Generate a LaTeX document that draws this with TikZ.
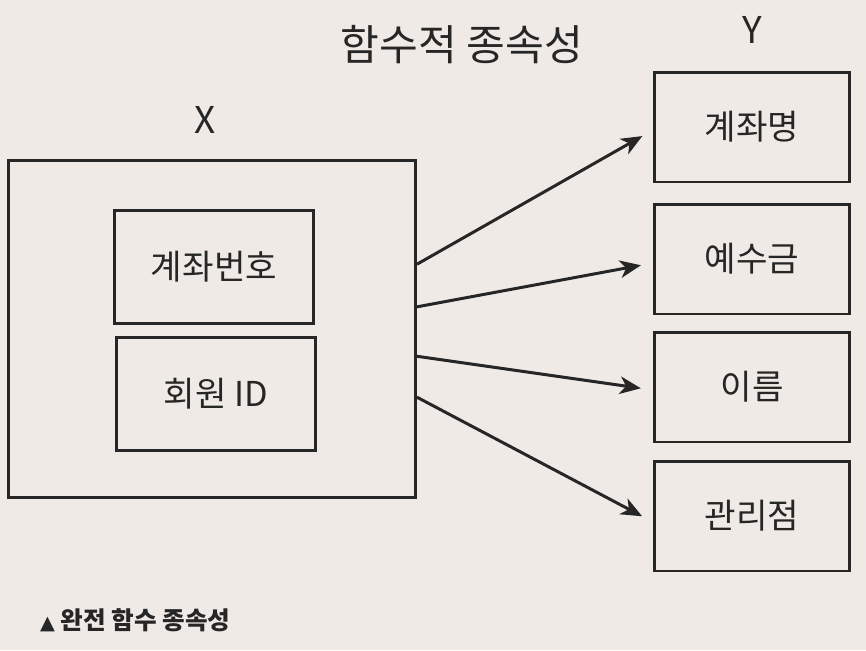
\documentclass[tikz,border=0pt]{standalone}
\usepackage{fontspec}
\setmainfont{Noto Sans CJK KR}
\usetikzlibrary{calc,arrows.meta}
\definecolor{paper}{HTML}{EFEAE5}
\definecolor{ink}{HTML}{262626}

\begin{document}
\begin{tikzpicture}[
  x=0.02cm, y=-0.02cm,
  box/.style={draw=ink, line width=1.7pt, minimum width=3.9cm, minimum height=2.2cm,
              align=center, font=\fontsize{19.5}{22}\selectfont, text=ink},
  inbox/.style={box, minimum width=3.97cm, minimum height=2.27cm},
  arr/.style={-{Stealth[length=12pt, width=10pt, inset=3.5pt]}, line width=1.7pt, draw=ink, shorten >=7pt},
]
  \fill[paper] (0,0) rectangle (866,650);
  \useasboundingbox (0,0) rectangle (866,650);

  \node[text=ink, font=\fontsize{24}{28}\selectfont] (title) at (462,45) {함수적 종속성};
  \node[text=ink, font=\fontsize{21}{24}\selectfont] (xlab) at (205,120) {X};
  \node[text=ink, font=\fontsize{21}{24}\selectfont] (ylab) at (752,30) {Y};

  % left side
  \node[draw=ink, line width=1.7pt, minimum width=8.14cm, minimum height=6.76cm] (xbox) at (212,329) {};
  \node[inbox] (acctno) at (214,267) {계좌번호};
  \node[inbox] (member) at (216,394) {회원 ID};

  % right side
  \node[box] (acctname) at (752,127) {계좌명};
  \node[box] (deposit) at (752,259) {예수금};
  \node[box] (name) at (752,387) {이름};
  \node[box] (branch) at (752,516) {관리점};

  \draw[arr] ($(xbox.north east)!0.31!(xbox.south east)$) -- ($(acctname.west)+(0,3)$);
  \draw[arr] ($(xbox.north east)!0.435!(xbox.south east)$) -- ($(deposit.west)+(0,4)$);
  \draw[arr] ($(xbox.north east)!0.58!(xbox.south east)$) -- ($(name.west)+(0,3)$);
  \draw[arr] ($(xbox.north east)!0.70!(xbox.south east)$) -- ($(branch.west)+(0,6)$);

  \node[anchor=west, text=ink, font=\fontsize{14}{16}\selectfont\bfseries] (caption) at (34,620)
    {{\fontspec{DejaVu Sans}\fontsize{11}{12}\selectfont ▲} 완전 함수 종속성};
\end{tikzpicture}
\end{document}
